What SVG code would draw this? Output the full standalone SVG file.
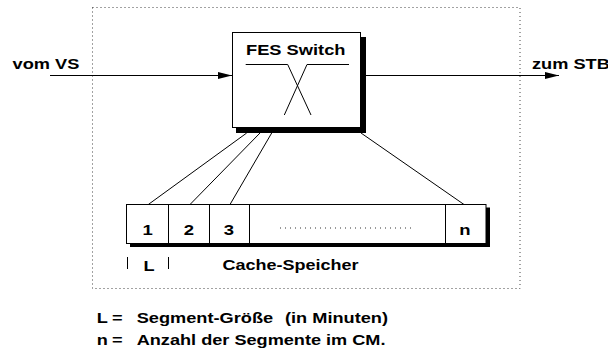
<svg xmlns="http://www.w3.org/2000/svg" width="608" height="356" viewBox="0 0 608 356">
  <defs>
    <style>
      .t { font-family: "Liberation Sans", Arial, Helvetica, sans-serif; font-weight: bold; font-size: 15px; fill: #000; }
      .c { text-anchor: middle; }
      .ln { stroke: #000; stroke-width: 1; fill: none; }
      .box { stroke: #000; stroke-width: 1; fill: #fff; }
      .shadow { fill: #000; }
      .dotted { stroke: #444; stroke-width: 1; stroke-dasharray: 1 3; fill: none; }
    </style>
    <marker id="arrow" viewBox="0 0 14 7" refX="14" refY="3.5" markerWidth="14" markerHeight="7" markerUnits="userSpaceOnUse" orient="auto">
      <path d="M0,0 L14,3.5 L0,7 z" fill="#000"/>
    </marker>
  </defs>

  <!-- dotted system boundary -->
  <rect id="boundary" x="92.5" y="7.5" width="427.5" height="281" class="dotted"/>

  <!-- connectors -->
  <g id="connectors">
    <line x1="50" y1="75.5" x2="232" y2="75.5" class="ln" marker-end="url(#arrow)"/>
    <line x1="366" y1="75.5" x2="559" y2="75.5" class="ln" marker-end="url(#arrow)"/>
    <line x1="246.7" y1="133" x2="148.3" y2="204.5" class="ln"/>
    <line x1="260" y1="133" x2="190" y2="204.5" class="ln"/>
    <line x1="271.7" y1="133" x2="230" y2="204.5" class="ln"/>
    <line x1="361" y1="133" x2="464" y2="204.5" class="ln"/>
  </g>

  <!-- switch node -->
  <g id="fes-switch">
    <rect x="236" y="37" width="130" height="96" class="shadow"/>
    <rect x="232.5" y="32.5" width="128" height="95" class="box"/>
    <text x="246" y="55" class="t" textLength="99.5" lengthAdjust="spacingAndGlyphs">FES Switch</text>
    <polyline points="245.7,64.5 287.7,64.5 311,115" class="ln"/>
    <polyline points="349,64.5 307,64.5 284.3,115" class="ln"/>
  </g>

  <!-- cache memory node -->
  <g id="cache">
    <rect x="130" y="207.5" width="360" height="39.5" class="shadow"/>
    <rect x="126.5" y="204.5" width="359.5" height="39" class="box"/>
    <line x1="168.5" y1="204.5" x2="168.5" y2="243.5" class="ln"/>
    <line x1="209.5" y1="204.5" x2="209.5" y2="243.5" class="ln"/>
    <line x1="249.5" y1="204.5" x2="249.5" y2="243.5" class="ln"/>
    <line x1="445.5" y1="204.5" x2="445.5" y2="243.5" class="ln"/>
    <text x="147.7" y="234.5" class="t c" textLength="10.3" lengthAdjust="spacingAndGlyphs">1</text>
    <text x="189" y="234.5" class="t c" textLength="10.3" lengthAdjust="spacingAndGlyphs">2</text>
    <text x="229" y="234.5" class="t c" textLength="10.3" lengthAdjust="spacingAndGlyphs">3</text>
    <line x1="280" y1="228" x2="413" y2="228" stroke="#333" stroke-width="1" stroke-dasharray="1 4"/>
    <text x="465" y="234.5" class="t c" textLength="11.3" lengthAdjust="spacingAndGlyphs">n</text>
  </g>

  <!-- segment size marker and cache caption -->
  <g id="cache-caption">
    <line x1="127.5" y1="257" x2="127.5" y2="269" class="ln"/>
    <line x1="168.5" y1="257" x2="168.5" y2="269" class="ln"/>
    <text x="143.5" y="271" class="t" textLength="11.1" lengthAdjust="spacingAndGlyphs">L</text>
    <text x="222.5" y="269.5" class="t" textLength="136" lengthAdjust="spacingAndGlyphs">Cache-Speicher</text>
  </g>

  <!-- external endpoints -->
  <g id="vom-vs">
    <text x="12.5" y="69" class="t" textLength="66.8" lengthAdjust="spacingAndGlyphs">vom VS</text>
  </g>
  <g id="zum-stb">
    <text x="532" y="69" class="t" textLength="77.9" lengthAdjust="spacingAndGlyphs">zum STB</text>
  </g>

  <!-- legend -->
  <g id="legend">
    <text x="96.7" y="322.5" class="t" textLength="11.1" lengthAdjust="spacingAndGlyphs">L</text>
    <text x="112" y="322.5" class="t" textLength="10.6" lengthAdjust="spacingAndGlyphs">=</text>
    <text x="136.7" y="322.5" class="t" textLength="136.5" lengthAdjust="spacingAndGlyphs">Segment-Größe</text>
    <text x="285" y="322.5" class="t" textLength="103" lengthAdjust="spacingAndGlyphs">(in Minuten)</text>
    <text x="96.7" y="344.5" class="t" textLength="11.1" lengthAdjust="spacingAndGlyphs">n</text>
    <text x="112" y="344.5" class="t" textLength="10.6" lengthAdjust="spacingAndGlyphs">=</text>
    <text x="136.7" y="344.5" class="t" textLength="248.8" lengthAdjust="spacingAndGlyphs">Anzahl der Segmente im CM.</text>
  </g>
</svg>
